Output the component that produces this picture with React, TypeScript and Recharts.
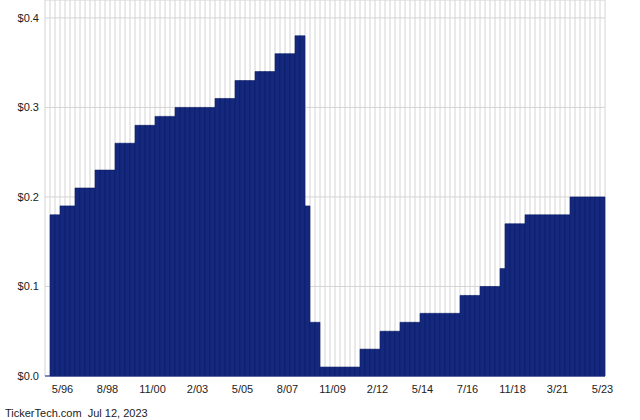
import React from "react";
import { BarChart, Bar, XAxis, YAxis, CartesianGrid } from "recharts";

const dates: string[] = [
  "8/95", "11/95",
  "2/96", "5/96", "8/96", "11/96",
  "2/97", "5/97", "8/97", "11/97",
  "2/98", "5/98", "8/98", "11/98",
  "2/99", "5/99", "8/99", "11/99",
  "2/00", "5/00", "8/00", "11/00",
  "2/01", "5/01", "8/01", "11/01",
  "2/02", "5/02", "8/02", "11/02",
  "2/03", "5/03", "8/03", "11/03",
  "2/04", "5/04", "8/04", "11/04",
  "2/05", "5/05", "8/05", "11/05",
  "2/06", "5/06", "8/06", "11/06",
  "2/07", "5/07", "8/07", "11/07",
  "2/08", "5/08", "8/08", "11/08",
  "2/09", "5/09", "8/09", "11/09",
  "2/10", "5/10", "8/10", "11/10",
  "2/11", "5/11", "8/11", "11/11",
  "2/12", "5/12", "8/12", "11/12",
  "2/13", "5/13", "8/13", "11/13",
  "2/14", "5/14", "8/14", "11/14",
  "2/15", "5/15", "8/15", "11/15",
  "2/16", "5/16", "7/16", "11/16",
  "2/17", "5/17", "8/17", "11/17",
  "2/18", "5/18", "8/18", "11/18",
  "2/19", "5/19", "8/19", "11/19",
  "2/20", "5/20", "8/20", "11/20",
  "3/21", "5/21", "8/21", "11/21",
  "2/22", "5/22", "8/22", "11/22",
  "2/23", "5/23",
];

const dividends: (number | null)[] = [
  null, 0.18,
  0.18, 0.19, 0.19, 0.19,
  0.21, 0.21, 0.21, 0.21,
  0.23, 0.23, 0.23, 0.23,
  0.26, 0.26, 0.26, 0.26,
  0.28, 0.28, 0.28, 0.28,
  0.29, 0.29, 0.29, 0.29,
  0.30, 0.30, 0.30, 0.30,
  0.30, 0.30, 0.30, 0.30,
  0.31, 0.31, 0.31, 0.31,
  0.33, 0.33, 0.33, 0.33,
  0.34, 0.34, 0.34, 0.34,
  0.36, 0.36, 0.36, 0.36,
  0.38, 0.38, 0.19, 0.06,
  0.06, 0.01, 0.01, 0.01,
  0.01, 0.01, 0.01, 0.01,
  0.01, 0.03, 0.03, 0.03,
  0.03, 0.05, 0.05, 0.05,
  0.05, 0.06, 0.06, 0.06,
  0.06, 0.07, 0.07, 0.07,
  0.07, 0.07, 0.07, 0.07,
  0.07, 0.09, 0.09, 0.09,
  0.09, 0.10, 0.10, 0.10,
  0.10, 0.12, 0.17, 0.17,
  0.17, 0.17, 0.18, 0.18,
  0.18, 0.18, 0.18, 0.18,
  0.18, 0.18, 0.18, 0.20,
  0.20, 0.20, 0.20, 0.20,
  0.20, 0.20,
];

const xTickLabels: string[] = [
  "5/96", "8/98", "11/00", "2/03", "5/05", "8/07", "11/09",
  "2/12", "5/14", "7/16", "11/18", "3/21", "5/23",
];

const yTicks: number[] = [0, 0.1, 0.2, 0.3, 0.4];

const footerText = "TickerTech.com  Jul 12, 2023";

const data = dates.map((d, i) => ({ date: d, value: dividends[i] }));

const FONT = "'Liberation Sans', Arial, Helvetica, sans-serif";

export default function App() {
  const slots = dates.length;
  return (
    <div style={{ position: "absolute", left: 0, top: 0, width: 640, height: 420, background: "#fff" }}>
      <BarChart
        width={640}
        height={420}
        data={data}
        margin={{ top: 0, right: 35, bottom: 0, left: 0 }}
        barCategoryGap={0}
        barGap={0}
      >
        <CartesianGrid
          stroke="#d4d4d4"
          strokeWidth={1}
          verticalCoordinatesGenerator={({ offset }: any) =>
            Array.from({ length: slots + 1 }, (_, i) => offset.left + (i * offset.width) / slots)
          }
        />
        <XAxis
          dataKey="date"
          ticks={xTickLabels}
          interval={0}
          height={44}
          tickLine={false}
          tickSize={6}
          tickMargin={3}
          axisLine={{ stroke: "#14297e", strokeWidth: 1 }}
          tick={{ fontSize: 11, fill: "#222", fontFamily: FONT }}
        />
        <YAxis
          domain={[0, 0.42]}
          ticks={yTicks}
          width={45}
          tickLine={false}
          axisLine={false}
          tickSize={6}
          tickMargin={0}
          tickFormatter={(v: number) => `$${v.toFixed(1)}`}
          tick={{ fontSize: 11, fill: "#222", fontFamily: FONT }}
        />
        <Bar
          dataKey="value"
          fill="#14297e"
          stroke="#0c1c66"
          strokeWidth={0.6}
          isAnimationActive={false}
        />
      </BarChart>
      <div
        style={{
          position: "absolute",
          left: 5,
          top: 406,
          fontFamily: FONT,
          fontSize: 11,
          color: "#222",
          whiteSpace: "pre",
          lineHeight: "14px",
        }}
      >
        {footerText}
      </div>
    </div>
  );
}
